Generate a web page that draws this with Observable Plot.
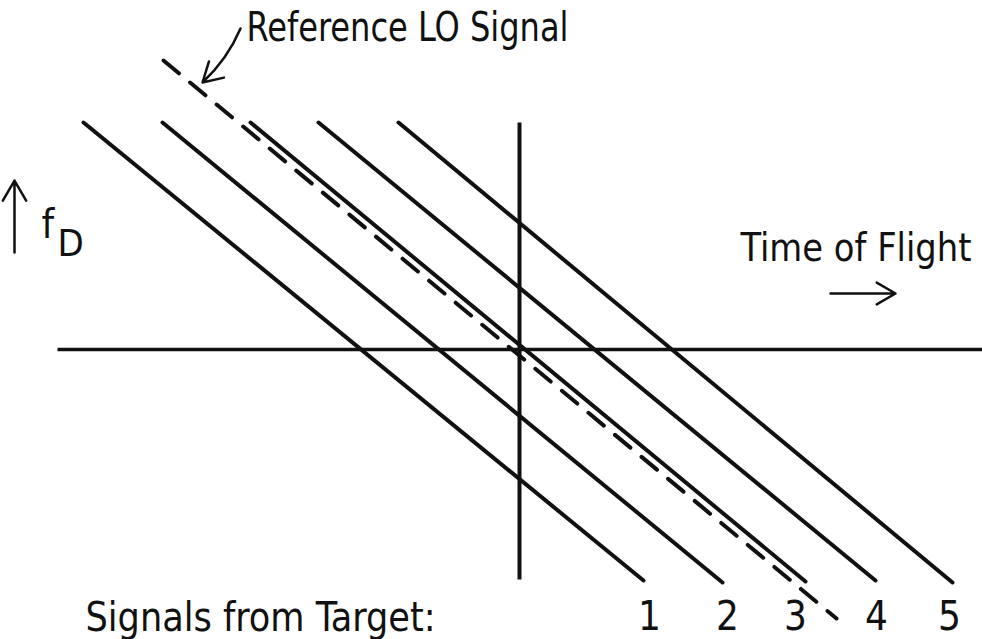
<!DOCTYPE html>
<html><head><meta charset="utf-8">
<script src="https://cdn.jsdelivr.net/npm/d3@7"></script>
<script src="https://cdn.jsdelivr.net/npm/@observablehq/plot@0.6"></script>
<style>html,body{margin:0;padding:0;background:#fff;} #chart svg{display:block}</style>
</head><body><div id="chart"></div>
<script>
// ---- Data (time of flight t, Doppler frequency fD; origin at the axes crossing) ----
const signalIds    = ["1", "2", "3", "4", "5"];
const signalStartT = [-4.36, -3.57, -2.69, -2.01, -1.21];
const signalStartF = [ 2.27,  2.27,  2.27,  2.27,  2.27];
const signalEndT   = [ 1.24,  2.03,  2.86,  3.56,  4.33];
const signalEndF   = [-2.31, -2.33, -2.32, -2.31, -2.33];

// Reference LO signal (dashed)
const loT = [-3.56, 3.17];
const loF = [ 2.89, -2.69];

// Axes
const timeAxisT = [-4.62, 4.63];   // along fD = 0
const fdAxisF   = [-2.30, 2.27];   // along t = 0

// Labels
const signalLabelT = [1.30, 2.08, 2.76, 3.57, 4.30];
const signalLabelF = [-2.80, -2.80, -2.80, -2.80, -2.80];
const textLabels = [
  {text: "Reference LO Signal",  t: -2.73, f: 3.09},
  {text: "Signals from Target:", t: -4.34, f: -2.81},
  {text: "f",                    t: -4.78, f: 1.12}
];
const axisTitle = [{text: "Time of Flight", t: 2.21, f: 0.89}];
const subLabels = [{text: "D", t: -4.62, f: 0.94}];

// Pointer arrows
const leaderArrow = [{t1: -2.79, f1: 3.21, t2: -3.17, f2: 2.67}];
const straightArrows = [
  {name: "time", t1:  3.11, f1: 0.56, t2:  3.76, f2: 0.56},
  {name: "fD",   t1: -5.05, f1: 0.97, t2: -5.05, f2: 1.69}
];

// ---- Build tables ----
const signals = signalIds.map((id, i) => ({id, t1: signalStartT[i], f1: signalStartF[i], t2: signalEndT[i], f2: signalEndF[i]}));
const lo = [{t1: loT[0], f1: loF[0], t2: loT[1], f2: loF[1]}];
const timeAxis = [{t1: timeAxisT[0], f1: 0, t2: timeAxisT[1], f2: 0}];
const fdAxis = [{t1: 0, f1: fdAxisF[0], t2: 0, f2: fdAxisF[1]}];
const numLabels = signalIds.map((id, i) => ({id, t: signalLabelT[i], f: signalLabelF[i]}));

const ink = "#111";
const fontFamily = "'DejaVu Sans Condensed', 'DejaVu Sans', sans-serif";
// target text widths (px) to mimic the narrow lettering
const textWidths = {"Reference LO Signal": 322, "Time of Flight": 231, "Signals from Target:": 350};

const chart = Plot.plot({
  width: 982,
  height: 639,
  margin: 0,
  x: {domain: [-5.19, 4.63], axis: null},
  y: {domain: [-2.90, 3.49], axis: null},
  marks: [
    Plot.link(timeAxis, {x1: "t1", y1: "f1", x2: "t2", y2: "f2", stroke: ink, strokeWidth: 3.5}),
    Plot.link(fdAxis, {x1: "t1", y1: "f1", x2: "t2", y2: "f2", stroke: ink, strokeWidth: 4}),
    Plot.link(signals, {x1: "t1", y1: "f1", x2: "t2", y2: "f2", stroke: ink, strokeWidth: 4, strokeLinecap: "round"}),
    Plot.link(lo, {x1: "t1", y1: "f1", x2: "t2", y2: "f2", stroke: ink, strokeWidth: 4, strokeLinecap: "round", strokeDasharray: "20,14.5"}),
    Plot.arrow(leaderArrow, {x1: "t1", y1: "f1", x2: "t2", y2: "f2", bend: 12, stroke: ink, strokeWidth: 2.5, headLength: 16}),
    Plot.arrow(straightArrows, {x1: "t1", y1: "f1", x2: "t2", y2: "f2", stroke: ink, strokeWidth: 2.5, headLength: 14}),
    Plot.text(textLabels, {x: "t", y: "f", text: "text", textAnchor: "start", lineAnchor: "bottom", fontSize: 40, fontFamily, fill: ink}),
    Plot.text(axisTitle, {x: "t", y: "f", text: "text", textAnchor: "start", lineAnchor: "bottom", fontSize: 39, fontFamily, fill: ink}),
    Plot.text(subLabels, {x: "t", y: "f", text: "text", textAnchor: "start", lineAnchor: "bottom", fontSize: 38, fontFamily, fill: ink}),
    Plot.text(numLabels, {x: "t", y: "f", text: "id", textAnchor: "middle", lineAnchor: "bottom", fontSize: 40, fontFamily, fill: ink})
  ]
});

d3.select(chart).selectAll("text").each(function() {
  const w = textWidths[this.textContent];
  if (w) { this.setAttribute("textLength", w); this.setAttribute("lengthAdjust", "spacingAndGlyphs"); }
});

document.getElementById("chart").appendChild(chart);
</script>
</body></html>
